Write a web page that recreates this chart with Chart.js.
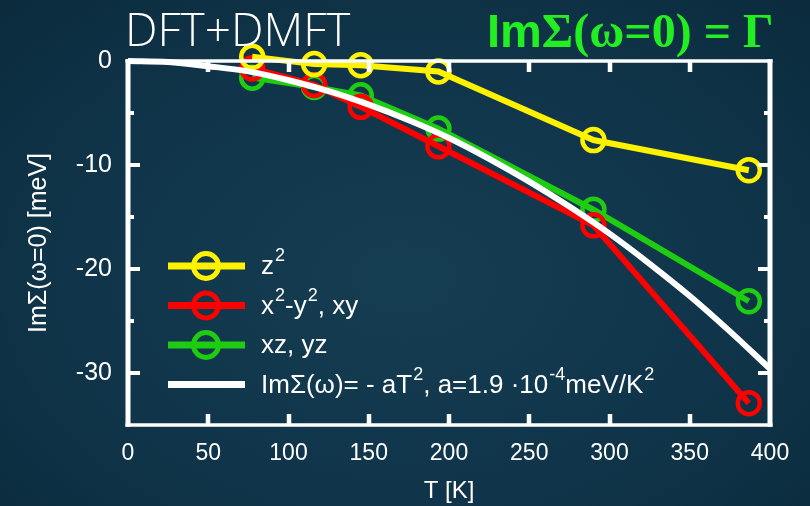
<!DOCTYPE html>
<html>
<head>
<meta charset="utf-8">
<title>DFT+DMFT scattering rate</title>
<script src="https://cdn.jsdelivr.net/npm/chart.js@4.4.1/dist/chart.umd.min.js"></script>
<style>
  html, body { margin: 0; padding: 0; }
  body {
    width: 810px; height: 506px; overflow: hidden;
    background: radial-gradient(ellipse at 50% 55%, #153d52 0%, #10354a 55%, #0b2b3d 100%);
  }
  canvas { display: block; }
</style>
</head>
<body>
<canvas id="chart" width="810" height="506"></canvas>
<script>
// Temperatures of the DMFT runs [K]
const temperatures = [77.4, 116, 145, 193.4, 290, 386.8];
// ImΣ(ω=0) per orbital group [meV]
const sigmaZ2 = [0.4, -0.3, -0.4, -1.0, -7.6, -10.5];
const sigmaX2Y2Xy = [-0.7, -2.3, -4.4, -8.2, -15.8, -32.9];
const sigmaXzYz = [-1.6, -2.5, -3.3, -6.5, -14.3, -23.1];
// Fermi-liquid fit curve, sampled every 25 K
const fitT = [0, 25, 50, 75, 100, 125, 150, 175, 200, 225, 250, 275, 300, 325, 350, 375, 400];
const fitSigma = [0, -0.1, -0.5, -1.0, -1.85, -2.9, -4.2, -5.7, -7.4, -9.4, -11.6, -14.0, -16.6, -19.5, -22.6, -26.0, -29.6];
// Axis ticks
const xTicks = [0, 50, 100, 150, 200, 250, 300, 350, 400];
const yTicks = [0, -10, -20, -30];
const yMinorTicks = [-5, -15, -25];
// Legend entries: [text, superscript] pieces
const legendZ2 = [['z', ''], ['', '2']];
const legendX2Y2 = [['x', ''], ['', '2'], ['-y', ''], ['', '2'], [', xy', '']];
const legendXzYz = [['xz, yz', '']];
const legendFit = [['ImΣ(ω)= - aT', ''], ['', '2'], [', a=1.9 ·10', ''], ['', '-4'], ['meV/K', ''], ['', '2']];

const COL_YELLOW = '#fff200';
const COL_RED = '#ff0000';
const COL_GREEN = '#1ecc12';
const COL_WHITE = '#ffffff';
const BASE_FONT = '"Liberation Sans", Arial, sans-serif';

function series(xs, ys) { return xs.map((t, i) => ({ x: t, y: ys[i] })); }

function orbitalDataset(label, values, color, order, pieces) {
  return {
    label, data: series(temperatures, values), order,
    borderColor: color, borderWidth: 6,
    pointRadius: 11, pointBorderWidth: 4.5, pointStyle: 'circle',
    pointBorderColor: color, pointBackgroundColor: 'rgba(0,0,0,0)',
    pointHoverRadius: 11, tension: 0, clip: false,
    legendPieces: pieces
  };
}

// Frame with inward ticks on all four sides
const frameTicks = {
  id: 'frameTicks',
  afterDatasetsDraw(chart) {
    const { ctx, chartArea: a, scales: { x, y } } = chart;
    ctx.save();
    ctx.strokeStyle = '#ffffff';
    ctx.lineCap = 'butt';
    ctx.lineWidth = 4.5;
    ctx.beginPath();
    xTicks.forEach(v => {
      if (v <= x.min || v >= x.max) return;
      const px = Math.round(x.getPixelForValue(v));
      ctx.moveTo(px, a.bottom); ctx.lineTo(px, a.bottom - 11);
      ctx.moveTo(px, a.top); ctx.lineTo(px, a.top + 11);
    });
    ctx.stroke();
    ctx.lineWidth = 4;
    ctx.beginPath();
    yTicks.forEach(v => {
      if (v <= y.min || v >= y.max) return;
      const py = Math.round(y.getPixelForValue(v));
      ctx.moveTo(a.left, py); ctx.lineTo(a.left + 12, py);
      ctx.moveTo(a.right, py); ctx.lineTo(a.right - 12, py);
    });
    yMinorTicks.forEach(v => {
      const py = Math.round(y.getPixelForValue(v));
      ctx.moveTo(a.left, py); ctx.lineTo(a.left + 6, py);
      ctx.moveTo(a.right, py); ctx.lineTo(a.right - 6, py);
    });
    ctx.stroke();
    // horizontal edges thinner than vertical ones
    ctx.lineWidth = 3.5;
    ctx.beginPath();
    ctx.moveTo(a.left - 2.5, a.top); ctx.lineTo(a.right + 2.5, a.top);
    ctx.moveTo(a.left - 2.5, a.bottom); ctx.lineTo(a.right + 2.5, a.bottom);
    ctx.stroke();
    ctx.lineWidth = 5;
    ctx.beginPath();
    ctx.moveTo(a.left, a.top - 1.75); ctx.lineTo(a.left, a.bottom + 1.75);
    ctx.moveTo(a.right, a.top - 1.75); ctx.lineTo(a.right, a.bottom + 1.75);
    ctx.stroke();
    ctx.restore();
  }
};

// Draws a run of text with raised superscripts, returns the end x
function drawPieces(ctx, pieces, x, y, size) {
  let cx = x;
  pieces.forEach(([txt, sup]) => {
    if (txt) {
      ctx.font = `${size}px ${BASE_FONT}`;
      ctx.fillText(txt, cx, y);
      cx += ctx.measureText(txt).width;
    }
    if (sup) {
      ctx.font = `${Math.round(size * 0.7)}px ${BASE_FONT}`;
      ctx.fillText(sup, cx + 1, y - size * 0.42);
      cx += ctx.measureText(sup).width + 1;
    }
  });
  return cx;
}

// Legend drawn from the datasets' own styles
const sampleLegend = {
  id: 'sampleLegend',
  afterDraw(chart) {
    const { ctx } = chart;
    const x0 = 168, x1 = 245, textX = 261, top = 266, step = 39.5;
    const items = [0, 1, 2, 3].map(i => chart.data.datasets[i]);
    ctx.save();
    ctx.textBaseline = 'middle';
    items.forEach((ds, i) => {
      const yy = top + i * step;
      ctx.strokeStyle = ds.borderColor;
      ctx.lineWidth = 7;
      ctx.beginPath(); ctx.moveTo(x0, yy); ctx.lineTo(x1, yy); ctx.stroke();
      if (ds.pointRadius > 0) {
        ctx.lineWidth = 5;
        ctx.beginPath(); ctx.arc(206, yy, 12.5, 0, Math.PI * 2); ctx.stroke();
      }
      ctx.fillStyle = '#ffffff';
      drawPieces(ctx, ds.legendPieces, textX, yy + 1, 26);
    });
    ctx.restore();
  }
};

// Headline texts above the plot
const headline = {
  id: 'headline',
  afterDraw(chart) {
    const { ctx } = chart;
    ctx.save();
    ctx.textBaseline = 'alphabetic';
    ctx.fillStyle = '#ffffff';
    ctx.font = '300 46px "Open Sans", Lato, sans-serif';
    ctx.fillText('DFT+DMFT', 125, 46);
    ctx.fillStyle = '#22ee22';
    ctx.font = 'bold 47px "Liberation Sans", Arial, sans-serif';
    ctx.fillText('Im', 487, 47);
    const w = ctx.measureText('Im').width;
    ctx.font = 'bold 48px "Liberation Serif", "Times New Roman", serif';
    ctx.fillText('Σ(ω=0) = Γ', 487 + w, 47);
    ctx.restore();
  }
};

new Chart(document.getElementById('chart'), {
  type: 'line',
  data: {
    datasets: [
      orbitalDataset('z2', sigmaZ2, COL_YELLOW, 1, legendZ2),
      orbitalDataset('x2-y2, xy', sigmaX2Y2Xy, COL_RED, 2, legendX2Y2),
      orbitalDataset('xz, yz', sigmaXzYz, COL_GREEN, 3, legendXzYz),
      {
        label: 'fit', data: series(fitT, fitSigma), order: 0,
        borderColor: COL_WHITE, borderWidth: 6, pointRadius: 0, pointHoverRadius: 0,
        cubicInterpolationMode: 'monotone', clip: false,
        legendPieces: legendFit
      }
    ]
  },
  options: {
    responsive: false,
    animation: false,
    devicePixelRatio: 1,
    events: [],
    layout: { padding: { top: 61, right: 40, left: 0, bottom: 0 } },
    plugins: { legend: { display: false }, title: { display: false }, tooltip: { enabled: false } },
    scales: {
      x: {
        type: 'linear', min: 0, max: 400,
        afterBuildTicks: s => { s.ticks = xTicks.map(v => ({ value: v })); },
        afterFit: s => { s.height = 81; },
        grid: { display: false, drawTicks: false },
        border: { display: false },
        ticks: { color: '#ffffff', padding: 15, font: { family: BASE_FONT, size: 23 } },
        title: { display: true, text: 'T [K]', color: '#ffffff', padding: { top: 0, bottom: 0 }, font: { family: BASE_FONT, size: 24 } }
      },
      y: {
        type: 'linear', min: -35, max: 0,
        afterBuildTicks: s => { s.ticks = yTicks.map(v => ({ value: v })); },
        afterFit: s => { s.width = 128; },
        grid: { display: false, drawTicks: false },
        border: { display: false },
        ticks: { color: '#ffffff', padding: 16, font: { family: BASE_FONT, size: 25 } },
        title: { display: true, text: 'ImΣ(ω=0) [meV]', color: '#ffffff', padding: { top: 24, bottom: 0 }, font: { family: BASE_FONT, size: 25 } }
      }
    }
  },
  plugins: [frameTicks, sampleLegend, headline]
});
</script>
</body>
</html>
